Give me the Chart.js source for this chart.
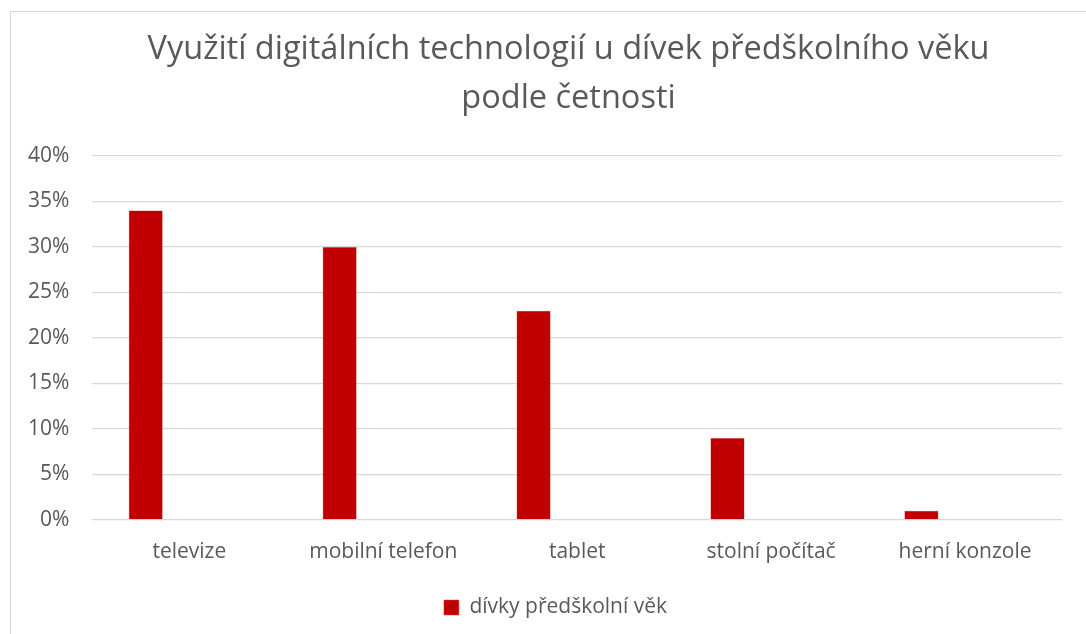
<!DOCTYPE html>
<html>
<head>
<meta charset="utf-8">
<script src="https://cdn.jsdelivr.net/npm/chart.js@4"></script>
<style>
    html, body { margin: 0; padding: 0; background: #fff; overflow: hidden; }
    #wrap { position: relative; width: 1086px; height: 634px; }
    #frame { position: absolute; left: 10px; top: 11px; width: 1100px; height: 650px; border: 1px solid #d9d9d9; box-sizing: border-box; }
    canvas { position: absolute; left: 0; top: 0; }
</style>
</head>
<body>
<div id="wrap">
    <div id="frame"></div>
    <canvas id="chart" width="1086" height="634"></canvas>
</div>
<script>
    const categories = ["televize", "mobilní telefon", "tablet", "stolní počítač", "herní konzole"]
    const girlsValues = [34, 30, 23, 9, 1]
    const emptyValues = [null, null, null, null, null]
    const yTicks = [0, 5, 10, 15, 20, 25, 30, 35, 40]

    const grey = '#595959'
    const font = "'Open Sans', 'DejaVu Sans', sans-serif"

    // the original frame runs past the right edge, so title and legend sit right of canvas centre
    const shiftBoxes = {
        id: 'shiftBoxes',
        afterLayout: function (chart) {
            if (chart.titleBlock) {
                chart.titleBlock.left += 35
                chart.titleBlock.right += 35
            }
            if (chart.legend) {
                chart.legend.left += 22
                chart.legend.right += 22
            }
        }
    }

    let ctx = document.getElementById("chart")
    let chart = new Chart(ctx, {
        type: 'bar',
        plugins: [shiftBoxes],
        data: {
            labels: categories,
            datasets: [{
                    label: "dívky předškolní věk",
                    data: girlsValues,
                    backgroundColor: '#c00000',
                    borderColor: '#d44a4a',
                    borderWidth: 0.5,
                    categoryPercentage: 0.9,
                    barPercentage: 0.39
                },
                {
                    label: "",
                    data: emptyValues,
                    backgroundColor: 'transparent',
                    categoryPercentage: 0.9,
                    barPercentage: 0.39
                }
            ]
        },
        options: {
            responsive: false,
            animation: false,
            layout: {
                padding: { top: 25, left: 5, right: 24, bottom: 6 }
            },
            plugins: {
                title: {
                    display: true,
                    text: ["Využití digitálních technologií u dívek předškolního věku", "podle četnosti"],
                    color: grey,
                    font: { family: font, size: 32.5, weight: 'normal', lineHeight: 1.508 },
                    padding: { top: 0, bottom: 33 }
                },
                legend: {
                    position: 'bottom',
                    labels: {
                        color: grey,
                        font: { family: font, size: 21 },
                        boxWidth: 15,
                        boxHeight: 15,
                        padding: 20,
                        filter: function (item) { return item.text !== "" }
                    }
                },
                tooltip: { enabled: false }
            },
            scales: {
                x: {
                    grid: { display: false },
                    border: { display: false },
                    ticks: {
                        color: grey,
                        font: { family: font, size: 21 },
                        padding: 12,
                        maxRotation: 0
                    }
                },
                y: {
                    min: 0,
                    max: 40,
                    afterBuildTicks: function (axis) {
                        axis.ticks = yTicks.map(v => ({ value: v }))
                    },
                    grid: { color: '#d9d9d9', lineWidth: 1.3, drawTicks: false },
                    border: { display: false },
                    ticks: {
                        color: grey,
                        font: { family: font, size: 21 },
                        padding: 23,
                        callback: function (v) { return v + '%' }
                    }
                }
            }
        }
    })
</script>
</body>
</html>
